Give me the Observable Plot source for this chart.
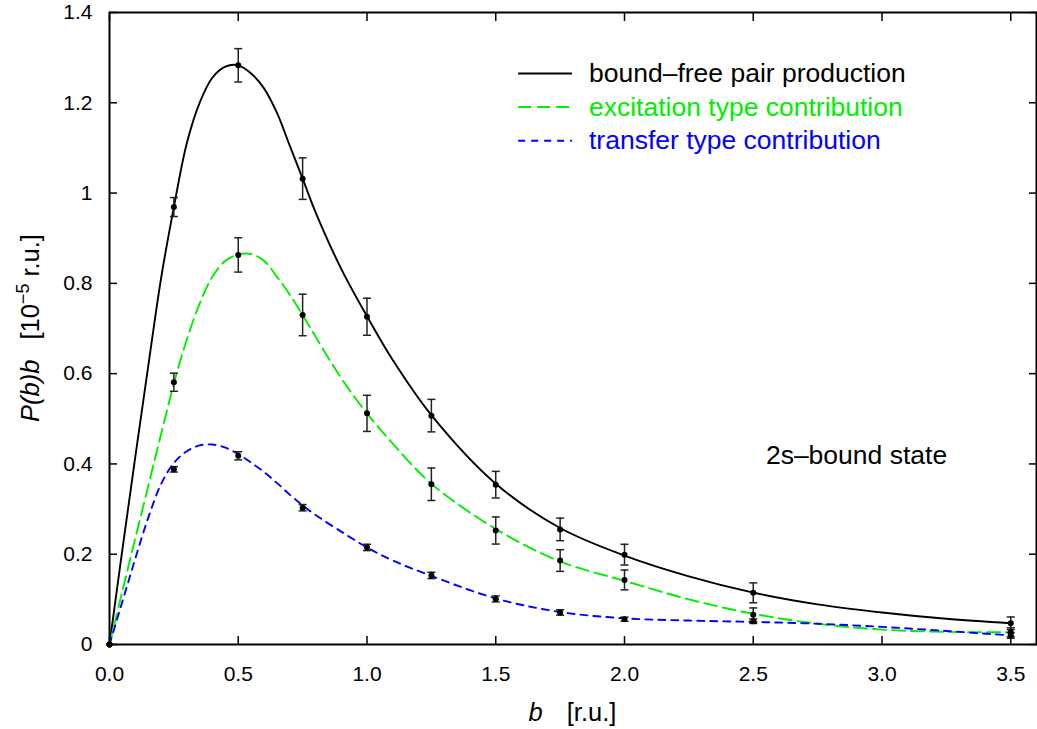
<!DOCTYPE html>
<html>
<head>
<meta charset="utf-8">
<script src="https://cdn.jsdelivr.net/npm/d3@7"></script>
<script src="https://cdn.jsdelivr.net/npm/@observablehq/plot@0.6"></script>
<style>
  body { margin: 0; background: #fff; }
  svg { display: block; }
</style>
</head>
<body>
<div id="chart"></div>
<script>
// ---- data ----
const bValues = [0, 0.25, 0.5, 0.75, 1.0, 1.25, 1.5, 1.75, 2.0, 2.5, 3.5];
const totalValues      = [0, 0.969, 1.283, 1.032, 0.726, 0.507, 0.354, 0.255, 0.199, 0.1145, 0.047];
const totalErrors      = [0, 0.021, 0.037, 0.046, 0.041, 0.036, 0.0295, 0.025, 0.023, 0.022, 0.014];
const excitationValues = [0, 0.581, 0.863, 0.730, 0.512, 0.355, 0.2525, 0.186, 0.143, 0.066, 0.027];
const excitationErrors = [0, 0.020, 0.038, 0.046, 0.040, 0.036, 0.030, 0.024, 0.022, 0.015, 0.010];
const transferValues   = [0, 0.388, 0.418, 0.303, 0.215, 0.153, 0.101, 0.071, 0.056, 0.0516, 0.020];
const transferErrors   = [0, 0.006, 0.009, 0.007, 0.007, 0.007, 0.0066, 0.006, 0.0045, 0.005, 0.006];

// fitted curves
const curveB = [0, 0.05, 0.1, 0.15, 0.2, 0.25, 0.3, 0.35, 0.4, 0.45, 0.5, 0.55, 0.6, 0.65, 0.7, 0.75, 0.8, 0.9, 1.0, 1.1, 1.25, 1.5, 1.75, 2.0, 2.25, 2.5, 2.75, 3.0, 3.25, 3.5];
const totalCurve      = [0, 0.21, 0.415, 0.615, 0.81, 0.969, 1.11, 1.2, 1.256, 1.28, 1.283, 1.265, 1.232, 1.178, 1.105, 1.032, 0.958, 0.832, 0.727, 0.63, 0.508, 0.356, 0.258, 0.197, 0.151, 0.115, 0.089, 0.071, 0.057, 0.047];
const excitationCurve = [0, 0.118, 0.235, 0.35, 0.465, 0.578, 0.675, 0.755, 0.815, 0.85, 0.864, 0.865, 0.85, 0.815, 0.775, 0.73, 0.682, 0.59, 0.512, 0.445, 0.356, 0.256, 0.184, 0.141, 0.1, 0.068, 0.046, 0.033, 0.028, 0.027];
const transferCurve   = [0, 0.095, 0.19, 0.28, 0.355, 0.402, 0.428, 0.441, 0.443, 0.436, 0.422, 0.403, 0.382, 0.358, 0.332, 0.308, 0.287, 0.25, 0.215, 0.186, 0.152, 0.102, 0.072, 0.058, 0.053, 0.05, 0.046, 0.039, 0.03, 0.02];

const seriesLabels = ["bound\u2013free pair production", "excitation type contribution", "transfer type contribution"];
const seriesColors = ["#000000", "#00ee00", "#0000ff"];
const seriesDashes = [null, "13,6", "7,6"];

const xTicks = [0, 0.5, 1.0, 1.5, 2.0, 2.5, 3.0, 3.5];
const yTicks = [0, 0.2, 0.4, 0.6, 0.8, 1.0, 1.2, 1.4];

const annotationText = "2s\u2013bound state";
const annotationPos = {b: 2.901, v: 0.419};
const legendLayout = {x1: 1.589, x2: 1.798, xText: 1.862, yTop: 1.265, yStep: 0.0745};

// ---- build tables ----
const curves = [totalCurve, excitationCurve, transferCurve];
const pointValues = [totalValues, excitationValues, transferValues];
const pointErrors = [totalErrors, excitationErrors, transferErrors];

const points = [];
pointValues.forEach((vals, s) => vals.forEach((v, i) => points.push({b: bValues[i], v, e: pointErrors[s][i], s})));
const errPoints = points.filter(d => d.e > 0);

const capSymbol = {
  draw(ctx, size) { const w = Math.sqrt(size / Math.PI); ctx.moveTo(-w, 0); ctx.lineTo(w, 0); }
};

const W = 1037, H = 729;
const mL = 109, mR = 1, mT = 12, mB = 85;
const FONT = "'Liberation Sans', Arial, sans-serif";

const marks = [];
curves.forEach((c, s) => {
  const rows = curveB.map((b, i) => ({b, v: c[i]}));
  marks.push(Plot.line(rows, {x: "b", y: "v", curve: "catmull-rom", stroke: seriesColors[s], strokeWidth: 1.9, strokeDasharray: seriesDashes[s] ?? undefined}));
});
marks.push(Plot.ruleX(errPoints, {x: "b", y1: d => d.v - d.e, y2: d => d.v + d.e, stroke: "#222", strokeWidth: 1.5}));
marks.push(Plot.dot(errPoints, {x: "b", y: d => d.v + d.e, symbol: capSymbol, r: 4, fill: "none", stroke: "#222", strokeWidth: 1.5}));
marks.push(Plot.dot(errPoints, {x: "b", y: d => d.v - d.e, symbol: capSymbol, r: 4, fill: "none", stroke: "#222", strokeWidth: 1.5}));
marks.push(Plot.dot(points, {x: "b", y: "v", r: 3, fill: "#000", stroke: "none"}));

// legend
seriesLabels.forEach((label, s) => {
  const yv = legendLayout.yTop - s * legendLayout.yStep;
  marks.push(Plot.ruleY([yv], {x1: legendLayout.x1, x2: legendLayout.x2, stroke: seriesColors[s], strokeWidth: 1.9, strokeDasharray: seriesDashes[s] ?? undefined}));
  marks.push(Plot.text([label], {x: legendLayout.xText, y: yv, text: d => d, textAnchor: "start", fill: seriesColors[s], fontSize: 26.5}));
});
marks.push(Plot.text([annotationText], {x: annotationPos.b, y: annotationPos.v, text: d => d, textAnchor: "middle", fill: "#000", fontSize: 26.5}));

// axes (ticks pointing inward on all four sides)
marks.push(Plot.axisX({ticks: xTicks, tickSize: -8, tickPadding: 30, tickFormat: d3.format(".1f"), fontSize: 21, label: null, strokeWidth: 1.5}));
marks.push(Plot.axisX({anchor: "top", ticks: xTicks, tickSize: -8, tickFormat: () => "", label: null, strokeWidth: 1.5}));
marks.push(Plot.axisY({ticks: yTicks, tickSize: -8, tickPadding: 25, tickFormat: d => String(+d.toFixed(1)), fontSize: 21, label: null, strokeWidth: 1.5}));
marks.push(Plot.axisY({anchor: "right", ticks: yTicks, tickSize: -8, tickFormat: () => "", label: null, strokeWidth: 1.5}));
marks.push(Plot.frame({stroke: "#000", strokeWidth: 2}));

const chart = Plot.plot({
  width: W, height: H,
  marginLeft: mL, marginRight: mR, marginTop: mT, marginBottom: mB,
  x: {domain: [0, 3.6]},
  y: {domain: [0, 1.4]},
  style: {fontFamily: FONT, fontSize: "21px", color: "#000", background: "#fff"},
  marks
});

// axis titles with mixed italic / superscript
const svg = d3.select(chart);
const cx = (mL + (W - mR)) / 2;
const cy = (mT + (H - mB)) / 2;
const xl = svg.append("text")
  .attr("x", cx).attr("y", 721)
  .attr("text-anchor", "middle")
  .attr("font-size", 25.5).attr("fill", "#000")
  .attr("font-family", FONT);
xl.append("tspan").attr("font-style", "italic").text("b");
xl.append("tspan").attr("dx", 24).text("[r.u.]");

const yl = svg.append("text")
  .attr("transform", `translate(39,${cy}) rotate(-90)`)
  .attr("text-anchor", "middle")
  .attr("font-size", 25.5).attr("fill", "#000")
  .attr("font-family", FONT);
yl.append("tspan").attr("font-style", "italic").text("P(b)b");
yl.append("tspan").attr("dx", 20).text("[10");
yl.append("tspan").attr("dy", -10).attr("font-size", 18).text("\u22125");
yl.append("tspan").attr("dy", 10).attr("dx", 7).text("r.u.]");

document.getElementById("chart").appendChild(chart);
</script>
</body>
</html>
